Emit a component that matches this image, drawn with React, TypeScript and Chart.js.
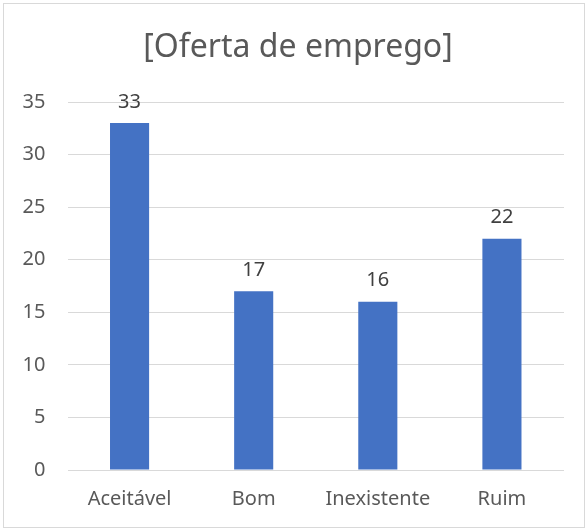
import React, { useEffect, useRef } from "react";
import { Chart, registerables } from "chart.js";

Chart.register(...registerables);

const categories = ["Aceitável", "Bom", "Inexistente", "Ruim"];
const values = [33, 17, 16, 22];
const titleText = "[Oferta de emprego]";
const yMin = 0;
const yMax = 35;
const yStep = 5;

const FONT = "'Noto Sans', 'Open Sans', sans-serif";

const frame = {
  id: "frame",
  beforeDraw(chart: any) {
    const { ctx, width, height } = chart;
    ctx.save();
    ctx.fillStyle = "#ffffff";
    ctx.fillRect(0, 0, width, height);
    ctx.strokeStyle = "#d9d9d9";
    ctx.lineWidth = 1;
    ctx.strokeRect(3.5, 3.5, width - 7, height - 7);
    ctx.fillStyle = "#595959";
    ctx.font = `32px ${FONT}`;
    ctx.textAlign = "center";
    ctx.textBaseline = "middle";
    ctx.fillText(titleText, width / 2 + 4, 48);
    ctx.restore();
  },
};

const dataLabels = {
  id: "dataLabels",
  afterDatasetsDraw(chart: any) {
    const { ctx } = chart;
    const meta = chart.getDatasetMeta(0);
    const data = chart.data.datasets[0].data;
    ctx.save();
    ctx.fillStyle = "#404040";
    ctx.font = `20px ${FONT}`;
    ctx.textAlign = "center";
    ctx.textBaseline = "bottom";
    meta.data.forEach((el: any, i: number) => {
      ctx.fillText(String(data[i]), el.x, el.y - 11);
    });
    ctx.restore();
  },
};

export default function App() {
  const ref = useRef<HTMLCanvasElement | null>(null);
  useEffect(() => {
    document.body.style.margin = "0";
    const chart = new Chart(ref.current as HTMLCanvasElement, {
      type: "bar",
      data: {
        labels: categories,
        datasets: [
          {
            data: values,
            backgroundColor: "#4472c4",
            borderWidth: 0,
            categoryPercentage: 1,
            barPercentage: 0.315,
          },
        ],
      },
      options: {
        animation: false,
        responsive: false,
        layout: { padding: { left: 0, right: 24, top: 102, bottom: 0 } },
        plugins: {
          legend: { display: false },
          tooltip: { enabled: false },
          title: { display: false },
        },
        scales: {
          x: {
            grid: { display: false, drawTicks: false },
            border: { display: false },
            ticks: {
              color: "#595959",
              font: { family: FONT, size: 20 },
              padding: 17,
            },
            afterFit(scale: any) {
              scale.height = 61;
            },
          },
          y: {
            min: yMin,
            max: yMax,
            ticks: {
              stepSize: yStep,
              color: "#595959",
              font: { family: FONT, size: 20 },
              padding: 22,
            },
            grid: { color: "#d9d9d9", lineWidth: 1, drawTicks: false },
            border: { display: false },
            afterFit(scale: any) {
              scale.width = 67.5;
            },
          },
        },
      },
      plugins: [frame, dataLabels],
    });
    return () => chart.destroy();
  }, []);
  return (
    <div style={{ width: 588, height: 531 }}>
      <canvas ref={ref} width={588} height={531} style={{ display: "block" }} />
    </div>
  );
}
